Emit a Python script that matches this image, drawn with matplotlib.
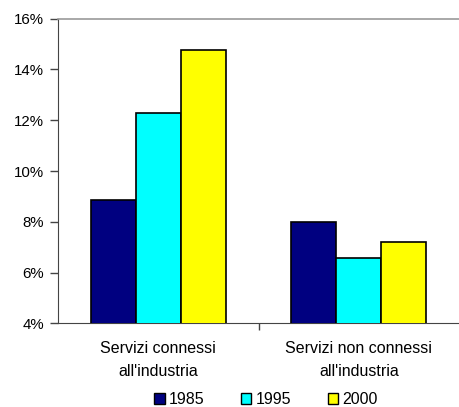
import matplotlib
matplotlib.use("Agg")
import matplotlib.pyplot as plt
import numpy as np
from matplotlib.patches import Patch
from matplotlib.ticker import FuncFormatter

plt.rcParams['font.family'] = ['Liberation Sans', 'DejaVu Sans']

# data (share, %)
categories = ["Servizi connessi\nall'industria", "Servizi non connessi\nall'industria"]
years = ["1985", "1995", "2000"]
v1985 = [8.85, 8.0]
v1995 = [12.29, 6.57]
v2000 = [14.76, 7.19]
colors = ["#000080", "#00FFFF", "#FFFF00"]

fig = plt.figure(figsize=(4.6, 4.07), dpi=100)
ax = fig.add_axes([0.126, 0.2056, 0.872, 0.7484])

x = np.arange(len(categories))
w = 0.224
for i, vals in enumerate([v1985, v1995, v2000]):
    ax.bar(x + (i - 1) * w, vals, width=w, color=colors[i],
           edgecolor="black", linewidth=1.2, zorder=3)

ax.set_ylim(4, 16)
ax.set_xlim(-0.5, 1.5)
ax.set_yticks(np.arange(4, 17, 2))
ax.yaxis.set_major_formatter(FuncFormatter(lambda v, p: "%d%%" % v))
ax.set_xticks(x)
ax.set_xticklabels(categories, fontsize=11.5, linespacing=1.6)
ax.set_xticks([0.5], minor=True)
ax.tick_params(axis="x", which="major", length=0, pad=13)
ax.tick_params(axis="x", which="minor", length=5, width=1, color="#444444")
ax.tick_params(axis="y", length=6, width=1, pad=4, labelsize=10.8, color="#444444")

ax.spines["right"].set_visible(False)
ax.spines["top"].set_color("#999999")
ax.spines["top"].set_linewidth(1.2)
ax.spines["left"].set_color("#444444")
ax.spines["bottom"].set_color("#444444")

handles = [Patch(facecolor=c, edgecolor="black", linewidth=1) for c in colors]
fig.legend(handles, years, loc="center", ncol=3, frameon=False,
           fontsize=11.5, bbox_to_anchor=(0.578, 0.018), handlelength=0.65,
           handleheight=0.65, handletextpad=0.25, columnspacing=2.3,
           borderpad=0, borderaxespad=0)

fig.savefig("out.png", dpi=100)
